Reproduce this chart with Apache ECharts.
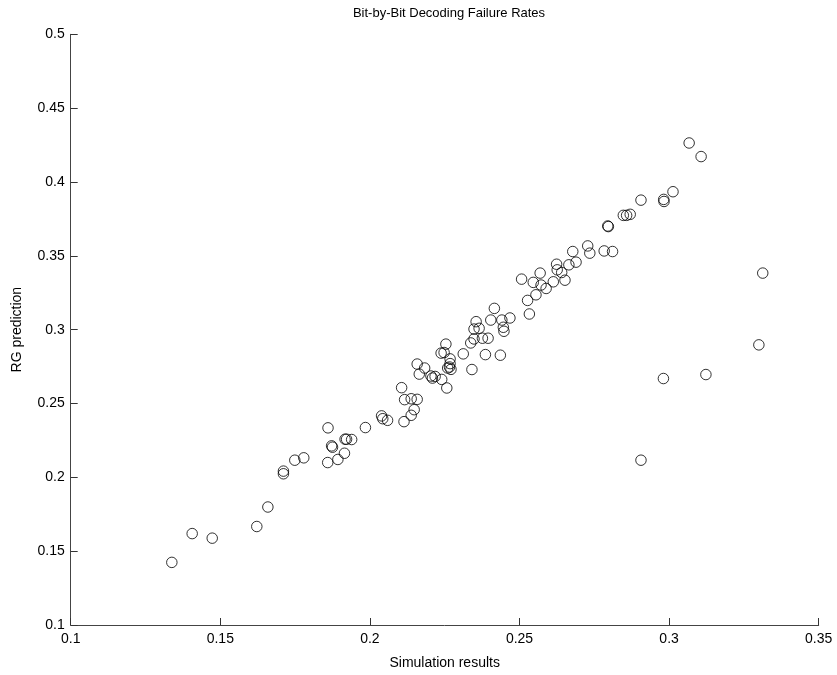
<!DOCTYPE html>
<html>
<head>
<meta charset="utf-8">
<script src="https://cdn.jsdelivr.net/npm/echarts@6/dist/echarts.min.js"></script>
<style>html,body{margin:0;padding:0;background:#fff}#c{width:837px;height:675px}</style>
</head>
<body>
<div id="c"></div>
<script>
const titleText = "Bit-by-Bit Decoding Failure Rates";
const xName = "Simulation results";
const yName = "RG prediction";
const simX = [
0.1338,0.1406,0.1473,0.1622,0.1659,0.1711,0.1711,0.1749,0.1779,0.1859,
0.1893,0.1915,0.1872,0.1875,0.1860,0.1917,0.1922,0.1939,0.1985,0.2039,
0.2043,0.2059,0.2114,0.2138,0.2148,0.2116,0.2138,0.2158,0.2106,0.2158,
0.2165,0.2183,0.2204,0.2209,0.2218,0.2240,0.2257,0.2238,0.2248,0.2254,
0.2268,0.2260,0.2266,0.2271,0.2268,0.2312,0.2341,0.2337,0.2348,0.2376,
0.2395,0.2348,0.2365,0.2355,0.2386,0.2416,0.2404,0.2441,0.2468,0.2446,
0.2448,0.2436,0.2533,0.2527,0.2555,0.2546,0.2569,0.2572,0.2507,0.2589,
0.2613,0.2624,0.2626,0.2641,0.2652,0.2665,0.2689,0.2678,0.2728,0.2735,
0.2783,0.2811,0.2795,0.2797,0.2847,0.2858,0.2870,0.2906,0.2982,0.2983,
0.3013,0.3067,0.3107,0.3313,0.3300,0.3123,0.2981,0.2906];
const rgY = [
0.1424,0.1619,0.1588,0.1667,0.1799,0.2042,0.2024,0.2116,0.2132,0.2100,
0.2121,0.2163,0.2213,0.2204,0.2335,0.2258,0.2258,0.2256,0.2337,0.2416,
0.2397,0.2386,0.2377,0.2420,0.2458,0.2526,0.2532,0.2528,0.2607,0.2767,
0.2699,0.2740,0.2686,0.2672,0.2683,0.2663,0.2605,0.2841,0.2845,0.2902,
0.2802,0.2740,0.2747,0.2731,0.2770,0.2836,0.2730,0.2910,0.2937,0.2942,
0.2942,0.3004,0.3009,0.3054,0.2831,0.3144,0.3065,0.3065,0.3079,0.3016,
0.2989,0.2827,0.3106,0.3198,0.3236,0.3320,0.3383,0.3302,0.3342,0.3279,
0.3324,0.3443,0.3405,0.3387,0.3335,0.3439,0.3457,0.3529,0.3567,0.3518,
0.3533,0.3529,0.3702,0.3698,0.3774,0.3774,0.3781,0.3877,0.3882,0.3868,
0.3934,0.4264,0.4172,0.3383,0.2897,0.2696,0.2669,0.2116];
const xTicks = [0.1,0.15,0.2,0.25,0.3,0.35];
const yTicks = [0.1,0.15,0.2,0.25,0.3,0.35,0.4,0.45,0.5];

const font = "'Liberation Sans', Arial, Helvetica, sans-serif";
const data = simX.map((x,i)=>[x,rgY[i]]);
const chart = echarts.init(document.getElementById('c'), null, {renderer:'canvas'});
const axisCommon = {
  type:'value', interval:0.05,
  axisLine:{show:true, lineStyle:{color:'#444', width:1}},
  axisTick:{show:true, inside:true, length:7, lineStyle:{color:'#333'}},
  splitLine:{show:false},
  nameTextStyle:{color:'#000', fontSize:14, fontFamily:font},
};
chart.setOption({
  animation:false,
  backgroundColor:'#fff',
  title:{text:titleText, left:444, top:2, textAlign:'center',
    textStyle:{fontSize:13, fontWeight:'normal', color:'#000', fontFamily:font}},
  grid:{left:70.7, right:18.3, top:34.3, bottom:48, containLabel:false},
  xAxis:Object.assign({}, axisCommon, {
    min:xTicks[0], max:xTicks[xTicks.length-1],
    name:xName, nameLocation:'middle', nameGap:31,
    axisLabel:{color:'#000', fontSize:14, fontFamily:font, margin:7,
      formatter:v=>String(+v.toFixed(2))}
  }),
  yAxis:Object.assign({}, axisCommon, {
    min:yTicks[0], max:yTicks[yTicks.length-1],
    name:yName, nameLocation:'middle', nameGap:47,
    axisLabel:{color:'#000', fontSize:14, fontFamily:font, margin:6,
      formatter:v=>String(+v.toFixed(2))}
  }),
  series:[{
    type:'scatter', data:data, symbol:'circle', symbolSize:10.5,
    itemStyle:{color:'rgba(0,0,0,0)', borderColor:'#000', borderWidth:1}
  }]
});
</script>
</body>
</html>
